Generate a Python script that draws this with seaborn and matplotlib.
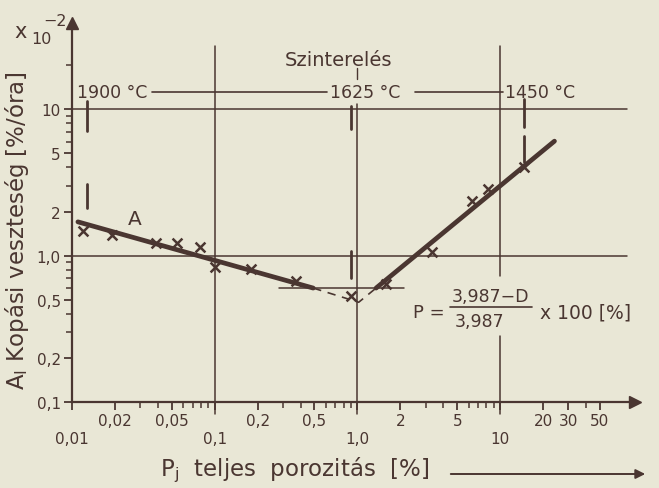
import numpy as np
import pandas as pd
import matplotlib
matplotlib.use("Agg")
import matplotlib.pyplot as plt
import seaborn as sns
from matplotlib.ticker import FixedLocator, FixedFormatter, NullFormatter
from matplotlib.lines import Line2D

# ---------------- data ----------------
porosity = [0.012, 0.019, 0.039, 0.054, 0.079, 0.10, 0.18, 0.37, 0.90, 1.58, 3.35, 6.3, 8.2, 14.6]
wear = [1.48, 1.39, 1.22, 1.21, 1.15, 0.84, 0.81, 0.67, 0.53, 0.64, 1.06, 2.37, 2.86, 4.03]

fit_a_x = [0.011, 0.49]
fit_a_y = [1.70, 0.60]
fit_b_x = [1.35, 24.0]
fit_b_y = [0.60, 6.05]
extrap_x = [0.49, 1.02, 1.35]
extrap_y = [0.60, 0.48, 0.60]
band_x = [0.284, 2.12]
band_y = [0.60, 0.60]

x_ticks = [0.01, 0.02, 0.05, 0.1, 0.2, 0.5, 1, 2, 5, 10, 20, 30, 50]
x_tick_labels = ["\n0,01", "0,02", "0,05", "\n0,1", "0,2", "0,5", "\n1,0",
                 "2", "5", "\n10", "20", "30", "50"]
x_minor = [0.03, 0.04, 0.06, 0.07, 0.08, 0.09, 0.3, 0.4, 0.6, 0.7, 0.8, 0.9,
           3, 4, 6, 7, 8, 9, 40]
y_ticks = [0.1, 0.2, 0.5, 1, 2, 5, 10]
y_tick_labels = ["0,1", "0,2", "0,5", "1,0", "2", "5", "10"]
y_minor = [0.3, 0.4, 0.6, 0.7, 0.8, 0.9, 3, 4, 6, 7, 8, 9, 20]

grid_x = [0.1, 1.0, 10.0]
grid_y = [1.0, 10.0]

temp_labels = ["1900 °C", "1625 °C", "1450 °C"]
temp_bounds = [0.0127, 0.90, 14.6]
temp_bars = [[(7.1, 11.3), (2.1, 3.1)],
             [(7.3, 10.5), (0.70, 1.08)],
             [(7.55, 11.7), (4.36, 6.55)]]
temp_level = 13.1
temp_segments = [(0.0364, 0.612), (2.54, 10.5)]

# ---------------- style ----------------
bg = "#e9e7d6"
ink = "#4a3631"
sns.set_theme(style="ticks", rc={"axes.facecolor": bg, "figure.facecolor": bg})
plt.rcParams["font.family"] = ["DejaVu Sans"]
plt.rcParams["text.color"] = ink

W, H = 659, 489
fig = plt.figure(figsize=(W / 100, H / 100), dpi=100)
ax = fig.add_axes([72 / W, 1 - 403 / H, (635 - 72) / W, (403 - 24) / H])
ax.set_xscale("log")
ax.set_yscale("log")
XMIN, XMAX, YMIN, YMAX = 0.01, 88.0, 0.1, 38.8

# grid-like reference lines
for gy in grid_y:
    ax.plot([XMIN, 77], [gy, gy], color=ink, lw=1.1, clip_on=False)
ax.plot([grid_x[0], grid_x[0]], [0.083, 27], color=ink, lw=1.1, clip_on=False)
ax.plot([grid_x[1], grid_x[1]], [0.083, 10.8], color=ink, lw=1.1, clip_on=False)
ax.plot([grid_x[2], grid_x[2]], [0.083, 0.283], color=ink, lw=1.1, clip_on=False)
ax.plot([grid_x[2], grid_x[2]], [0.726, 27], color=ink, lw=1.1, clip_on=False)

# temperature scale
for x0, x1 in temp_segments:
    ax.plot([x0, x1], [temp_level, temp_level], color=ink, lw=1.2, clip_on=False)
ax.plot([1.0, 1.0], [16.1, 19.0], color=ink, lw=1.0, clip_on=False)
for xb, bars in zip(temp_bounds, temp_bars):
    for lo, hi in bars:
        ax.plot([xb, xb], [lo, hi], color=ink, lw=2.0, clip_on=False)

# fitted lines
dfa = pd.DataFrame({"p": fit_a_x, "a": fit_a_y})
dfb = pd.DataFrame({"p": fit_b_x, "a": fit_b_y})
dfe = pd.DataFrame({"p": extrap_x, "a": extrap_y})
dfband = pd.DataFrame({"p": band_x, "a": band_y})
sns.lineplot(data=dfa, x="p", y="a", ax=ax, color=ink, lw=3.4, sort=False, estimator=None)
sns.lineplot(data=dfb, x="p", y="a", ax=ax, color=ink, lw=3.4, sort=False, estimator=None)
sns.lineplot(data=dfe, x="p", y="a", ax=ax, color=ink, lw=1.2, sort=False, estimator=None,
             dashes=False, linestyle=(0, (5, 4)))
sns.lineplot(data=dfband, x="p", y="a", ax=ax, color=ink, lw=1.1, sort=False, estimator=None)

# measured points
dfp = pd.DataFrame({"p": porosity, "a": wear})
sns.scatterplot(data=dfp, x="p", y="a", ax=ax, marker="x", s=50, color=ink, linewidth=1.8, zorder=5)

# axes styling
ax.set_xlim(XMIN, XMAX)
ax.set_ylim(YMIN, YMAX)
for s in ["top", "right"]:
    ax.spines[s].set_visible(False)
for s in ["left", "bottom"]:
    ax.spines[s].set_color(ink)
    ax.spines[s].set_linewidth(1.6)
ax.plot([XMAX], [YMIN], marker=">", ms=9, color=ink, clip_on=False)
ax.plot([XMIN], [YMAX], marker="^", ms=9, color=ink, clip_on=False)

ax.xaxis.set_major_locator(FixedLocator(x_ticks))
ax.xaxis.set_major_formatter(FixedFormatter(x_tick_labels))
ax.xaxis.set_minor_locator(FixedLocator(x_minor))
ax.xaxis.set_minor_formatter(NullFormatter())
ax.yaxis.set_major_locator(FixedLocator(y_ticks))
ax.yaxis.set_major_formatter(FixedFormatter(y_tick_labels))
ax.yaxis.set_minor_locator(FixedLocator(y_minor))
ax.yaxis.set_minor_formatter(NullFormatter())
ax.tick_params(axis="both", which="major", direction="out", length=6, width=1.3,
               color=ink, labelcolor=ink, labelsize=11, pad=2)
ax.tick_params(axis="both", which="minor", direction="out", length=4, width=1.1, color=ink)
ax.set_xlabel("")
ax.set_ylabel("")


def ft(x, y, s, **kw):
    kw.setdefault("ha", "center")
    kw.setdefault("va", "center")
    kw.setdefault("color", ink)
    fig.text(x / W, 1 - y / H, s, **kw)


ft(21, 32, "x", fontsize=15)
ft(41, 40, "10", fontsize=11.5)
ft(55, 21, "−2", fontsize=11.5)
ft(338, 60, "Szinterelés", fontsize=14)
ft(77, 93, temp_labels[0], ha="left", fontsize=12.5)
ft(330, 93, temp_labels[1], ha="left", fontsize=12.5)
ft(505, 93, temp_labels[2], ha="left", fontsize=12.5)
ft(135, 220, "A", fontsize=14.5)
ft(17, 231, r"$\mathregular{A_I}$ Kopási veszteség [%/óra]", rotation=90, fontsize=16.5)
ft(160, 470, r"$\mathregular{P_j}$  teljes  porozitás  [%]", ha="left", fontsize=16.5)
ax.annotate("", xy=(648, H - 475), xytext=(448, H - 475), xycoords="figure pixels",
            textcoords="figure pixels",
            arrowprops=dict(arrowstyle="-|>", color=ink, lw=1.4, mutation_scale=14))

# formula
ft(413, 313, "P =", ha="left", fontsize=13)
ft(490, 297, "3,987−D", fontsize=12.5)
fig.add_artist(Line2D([450 / W, 532 / W], [1 - 308 / H, 1 - 308 / H], color=ink, lw=1.2,
                      transform=fig.transFigure))
ft(480, 322, "3,987", fontsize=12.5)
ft(540, 313, "x 100 [%]", ha="left", fontsize=13.5)

fig.savefig("out.png", dpi=100, facecolor=bg)
